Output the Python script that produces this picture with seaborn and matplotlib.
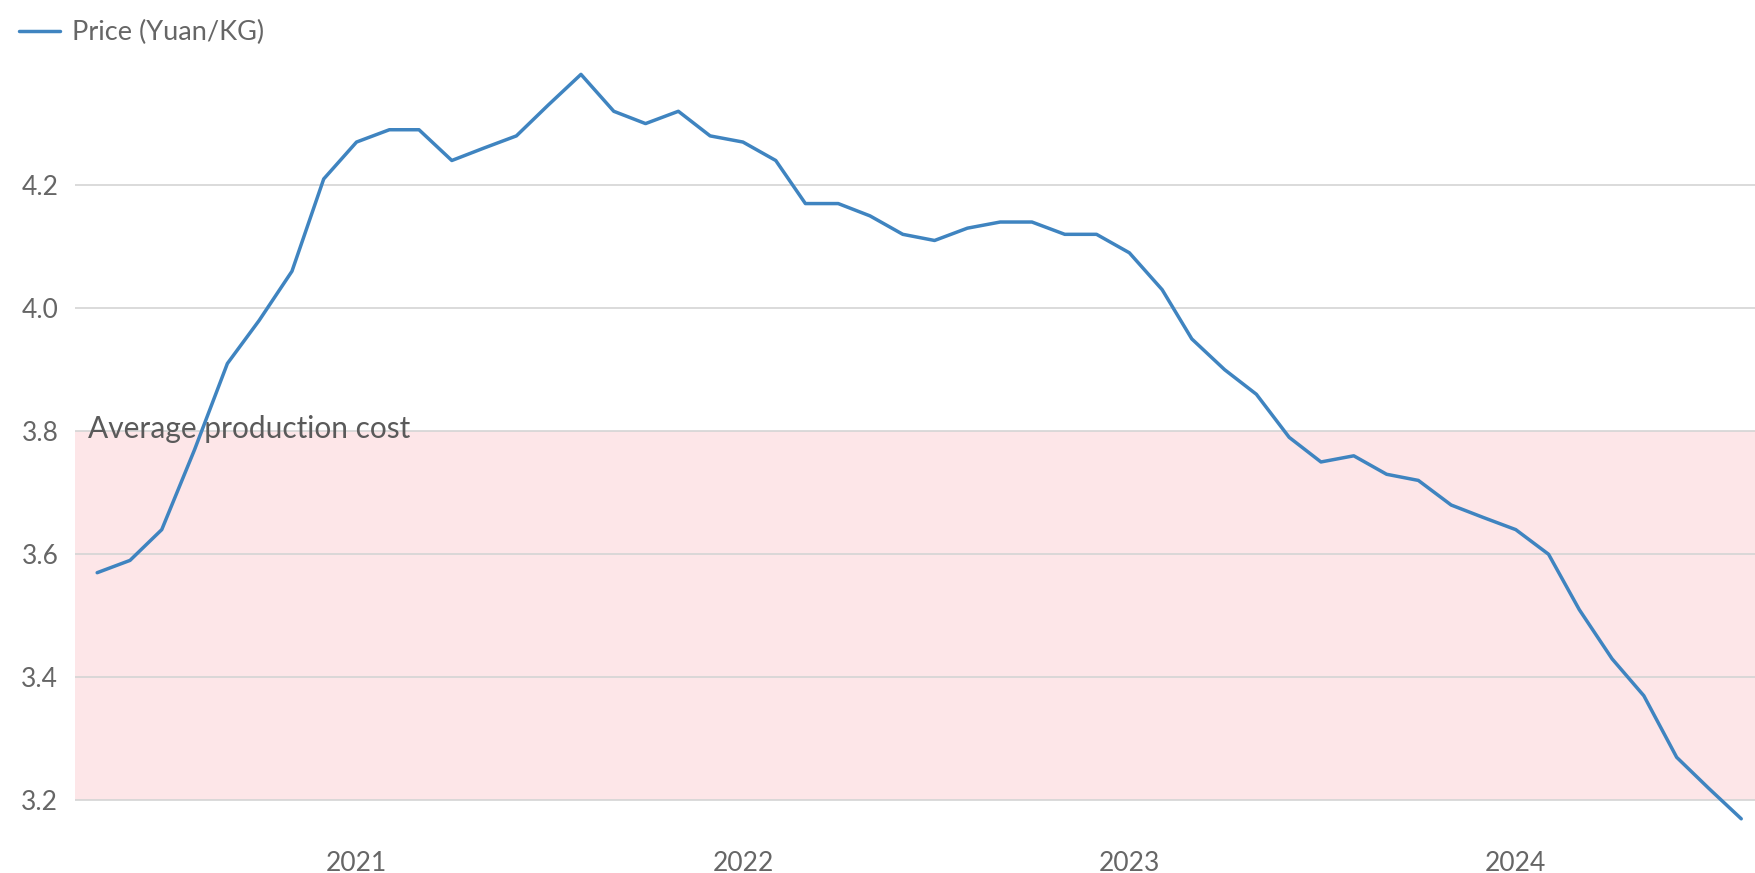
import pandas as pd
import matplotlib.pyplot as plt
import matplotlib.transforms as mtransforms
import seaborn as sns

# monthly price, May 2020 - Aug 2024
months = pd.date_range("2020-05-01", "2024-08-01", freq="MS")
price = [3.57, 3.59, 3.64, 3.77, 3.91, 3.98, 4.06, 4.21, 4.27, 4.29,
         4.29, 4.24, 4.26, 4.28, 4.33, 4.38, 4.32, 4.30, 4.32, 4.28,
         4.27, 4.24, 4.17, 4.17, 4.15, 4.12, 4.11, 4.13, 4.14, 4.14,
         4.12, 4.12, 4.09, 4.03, 3.95, 3.90, 3.86, 3.79, 3.75, 3.76,
         3.73, 3.72, 3.68, 3.66, 3.64, 3.60, 3.51, 3.43, 3.37, 3.27,
         3.22, 3.17]

cost_low = 3.2
cost_high = 3.8
cost_label = "Average production cost"
series_label = "Price (Yuan/KG)"

yticks = [3.2, 3.4, 3.6, 3.8, 4.0, 4.2]
year_ticks = pd.to_datetime(["2021-01-01", "2022-01-01", "2023-01-01", "2024-01-01"])
year_labels = ["2021", "2022", "2023", "2024"]

df = pd.DataFrame({"month": months, "price": price})

sns.set_style("white")
plt.rcParams["font.family"] = ["Lato", "DejaVu Sans"]

line_color = "#3f84c0"
text_color = "#666666"

fig = plt.figure(figsize=(17.55, 8.73), dpi=100)
ax = fig.add_axes([0.0427, 0.048, 0.9573, 0.895])

# shaded band below production cost
ax.axhspan(cost_low, cost_high, color="#fde6e8", zorder=0, lw=0)

sns.lineplot(data=df, x="month", y="price", ax=ax, color=line_color,
             linewidth=2.5, label=series_label, zorder=3)

ax.set_ylim(3.15, 4.42)
ax.set_xlim(pd.Timestamp("2020-04-10"), pd.Timestamp("2024-08-14"))
ax.set_yticks(yticks)
ax.set_yticklabels([f"{v:.1f}" for v in yticks])
ax.set_xticks(year_ticks)
ax.set_xticklabels(year_labels)
ax.grid(axis="y", color="#d4d4d4", linewidth=1.2)
ax.grid(axis="x", visible=False)
ax.set_axisbelow(True)
ax.set_xlabel("")
ax.set_ylabel("")
for s in ax.spines.values():
    s.set_visible(False)
ax.tick_params(axis="both", length=0, labelsize=19, labelcolor=text_color)
ax.tick_params(axis="y", pad=12)
ax.tick_params(axis="x", pad=14)

trans = mtransforms.blended_transform_factory(ax.transAxes, ax.transData)
ax.text(0.008, cost_high + 0.004, cost_label, transform=trans, fontsize=21.5,
        color="#5a5a5a", va="center", ha="left", zorder=2)

ax.legend_.remove()
handles, labels = ax.get_legend_handles_labels()
fig.legend(handles, labels, loc="upper left", bbox_to_anchor=(-0.003, 1.005),
           frameon=False, fontsize=19.5, handlelength=1.5, handletextpad=0.45,
           labelcolor=text_color)

fig.savefig("out.png", dpi=100)
